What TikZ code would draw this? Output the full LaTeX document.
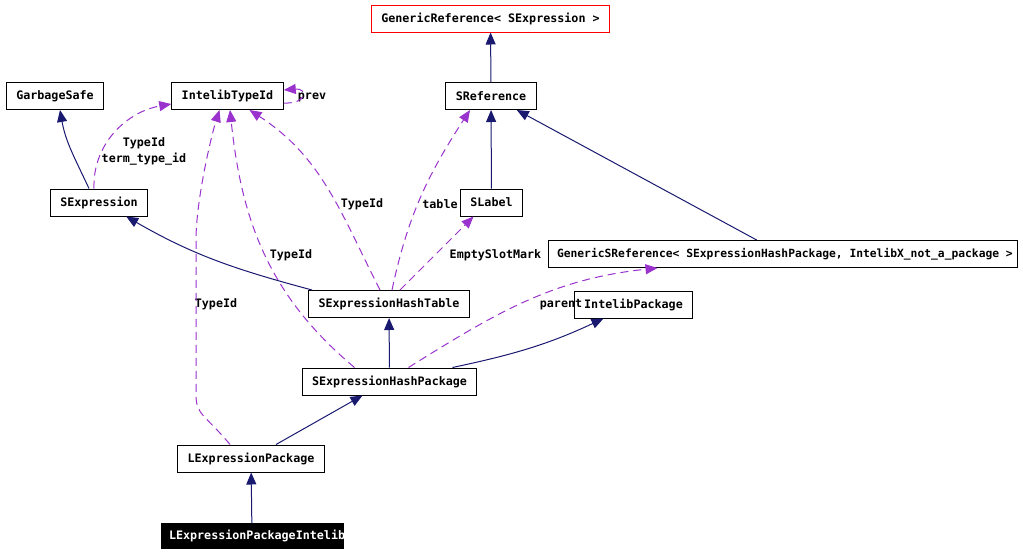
\documentclass[tikz,border=0pt]{standalone}
\usepackage{fontspec}
\setmonofont{DejaVu Sans Mono}
\usetikzlibrary{arrows.meta}
\definecolor{nachtblauw}{RGB}{25,25,112}
\definecolor{orchidee}{RGB}{154,50,205}
\definecolor{rood}{RGB}{255,0,0}

\begin{document}
\begin{tikzpicture}[x=1pt,y=1pt,>={Triangle[length=12pt,width=10pt]}]

% --- Stijldefinities ---
\tikzset{
    klasse/.style={
        draw=black,
        fill=white,
        font=\fontsize{11.7}{13}\selectfont\ttfamily\bfseries,
        inner xsep=10pt,
        inner ysep=0pt,
        minimum height=27pt,
        line width=1pt
    },
    wortel/.style={
        klasse,
        draw=rood
    },
    tekst/.style={
        font=\fontsize{11.7}{16}\selectfont\ttfamily\bfseries,
        inner sep=1pt,
        align=center
    },
    erft/.style={
        ->,
        draw=nachtblauw,
        line width=1pt
    },
    gebruikt/.style={
        ->,
        draw=orchidee,
        line width=1pt,
        dash pattern=on 8pt off 5pt
    }
}

\useasboundingbox (0,0) rectangle (1023,-555);

% --- Knooppunten (klassen) ---

% Rij 0
\node[wortel] (genref) at (490.5,-18.5) {GenericReference< SExpression >};

% Rij 1
\node[klasse] (garbage) at (55,-96)    {GarbageSafe};
\node[klasse] (typeid)  at (227.5,-96) {IntelibTypeId};
\node[klasse] (sref)    at (491,-96)   {SReference};

% Rij 2
\node[klasse] (sexpr)  at (99,-202.5)  {SExpression};
\node[klasse] (slabel) at (491.5,-202.5) {SLabel};

% Rij 3
\node[klasse, font=\fontsize{11.3}{13}\selectfont\ttfamily\bfseries, inner xsep=9pt] (gsref) at (782.5,-254)
    {\makebox[451pt][l]{GenericSReference< SExpressionHashPackage, IntelibX\_not\_a\_package >}};

% Rij 4
\node[klasse] (hashtable) at (389,-304)   {SExpressionHashTable};
\node[klasse] (intpkg)    at (633.5,-304.5) {IntelibPackage};

% Rij 5
\node[klasse] (hashpkg) at (389.5,-381.5) {SExpressionHashPackage};

% Rij 6
\node[klasse] (lexpr) at (251,-458.5) {LExpressionPackage};

% Rij 7 (onderaan)
\node[klasse, fill=black, text=white, inner xsep=0pt, minimum height=25pt] (lexprint) at (252,-536)
    {\makebox[182pt][l]{\hspace{8pt}LExpressionPackageIntelib}};

% --- Labels bij de gebruiksrelaties ---
\node[tekst] (ltermid)  at (144,-151) {TypeId\\term\_type\_id};
\node[tekst] (lprev)    at (312,-97)  {prev};
\node[tekst] (ltabid)   at (362,-204) {TypeId};
\node[tekst] (ltable)   at (440,-204) {table};
\node[tekst] (lempty)   at (495.5,-255) {EmptySlotMark};
\node[tekst] (lpkgid)   at (291,-255) {TypeId};
\node[tekst] (llexid)   at (216,-304) {TypeId};
\node[tekst] (lparent)  at (561,-305) {parent};

% --- Overerving (doorgetrokken) ---
\draw[erft] (sref) -- (genref);
\draw[erft] (slabel) -- (sref);
\draw[erft] (gsref) -- (sref);
\draw[erft] ([xshift=-10pt]sexpr.north) to[out=115,in=-80] ([xshift=5pt]garbage.south);
\draw[erft] ([xshift=4pt]hashtable.north west) to[out=165,in=-30] ([xshift=-22pt]sexpr.south east);
\draw[erft] (hashpkg) -- (hashtable);
\draw[erft] ([xshift=63pt]hashpkg.north) to[out=12,in=-155] ([xshift=-30pt]intpkg.south);
\draw[erft] ([xshift=25pt]lexpr.north) -- ([xshift=-27pt]hashpkg.south);
\draw[erft] (lexprint) -- (lexpr);

% --- Gebruik (gestreept) ---
\draw[gebruikt] ([xshift=-5pt]sexpr.north) to[out=92,in=-170] ([yshift=-8pt]typeid.west);
\draw[gebruikt] ([yshift=-7pt]typeid.east) .. controls +(24,-1) and +(24,2) .. ([yshift=6pt]typeid.east);
\draw[gebruikt] ([xshift=-9pt]hashtable.north) to[out=117,in=-33] ([xshift=22pt]typeid.south);
\draw[gebruikt] ([xshift=3pt]hashtable.north) to[out=78,in=-123] ([xshift=-21pt]sref.south);
\draw[gebruikt] ([xshift=11pt]hashtable.north) -- ([xshift=-18pt]slabel.south);
\draw[gebruikt] ([xshift=-35pt]hashpkg.north) to[out=140,in=-84] ([xshift=2.5pt]typeid.south);
\draw[gebruikt] ([xshift=-21pt]lexpr.north) .. controls +(-25,30) and +(0,-20) .. (196,-395)
    -- (196,-240) .. controls +(0,40) and +(-8,-25) .. ([xshift=-8pt]typeid.south);
\draw[gebruikt] ([xshift=19pt]hashpkg.north) to[out=32,in=-174] ([xshift=110pt]gsref.south west);

\end{tikzpicture}
\end{document}
